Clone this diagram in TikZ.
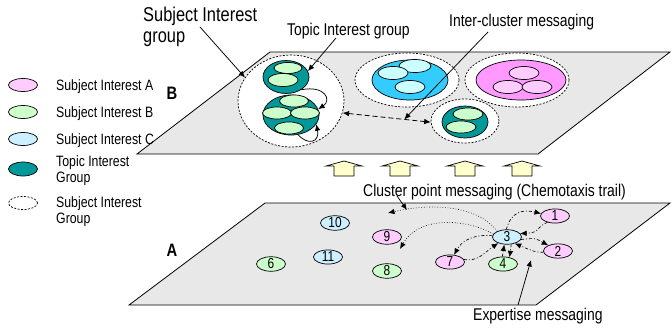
\documentclass[tikz,border=0pt]{standalone}
\usepackage{fontspec}
\setmainfont{Liberation Sans}[FakeStretch=0.82]
\usetikzlibrary{shapes.geometric,arrows.meta,calc}
\definecolor{pinkA}{HTML}{FFCCFF}
\definecolor{greenB}{HTML}{CCFFCC}
\definecolor{blueC}{HTML}{CCF0FF}
\definecolor{tealT}{HTML}{009999}
\definecolor{cyanBig}{HTML}{33CCFF}
\definecolor{cyanIn}{HTML}{CCFFFF}
\definecolor{pinkBig}{HTML}{FF99FF}
\definecolor{planeG}{HTML}{E8E8E8}
\definecolor{arrY}{HTML}{FFFFCC}
\begin{document}
\begin{tikzpicture}[x=1pt,y=-1pt,
  el/.style={ellipse, draw, line width=0.7pt, inner sep=0pt},
  sz/.style 2 args={minimum width=#1pt, minimum height=#2pt},
  sg/.style={el, dashed, dash pattern=on 2pt off 1.5pt, fill=white},
  num/.style={el, minimum width=29pt, minimum height=13pt, font=\fontsize{14.5}{14.5}\selectfont},
  lt/.style={inner sep=0pt, anchor=base west, font=\fontsize{15}{16.5}\selectfont, align=left},
  lab/.style={inner sep=0pt, anchor=base west, font=\fontsize{17}{19}\selectfont},
  plane/.style={draw, line width=0.8pt, fill=planeG},
  tip/.tip={Latex[length=6.5pt,width=5.5pt]},
  ptr/.style={line width=0.75pt, -tip},
  ex/.style={line width=0.65pt, dash pattern=on 3pt off 2pt on 1pt off 2pt, -tip},
  dt/.style={line width=0.65pt, dotted, -tip},
  bigarrow/.style={draw, line width=0.7pt, fill=arrY}
]
\useasboundingbox (0,0) rectangle (672,332);

% planes
\draw[plane] (137,154) -- (270,52) -- (670,52) -- (538,154) -- cycle;
\draw[plane] (129,305) -- (265,203) -- (670,203) -- (536,305) -- cycle;

% big yellow arrows
\foreach \cx in {344,400,465,522}{
  \draw[bigarrow] (\cx-10,176) -- (\cx-10,166) -- (\cx-18,166) -- (\cx,161) -- (\cx+18,166) -- (\cx+10,166) -- (\cx+10,176) -- cycle;
}

% legend
\node[el, fill=pinkA, sz={29}{13}] (lgA) at (23,85) {};
\node[el, fill=greenB, sz={29}{13}] (lgB) at (23,112) {};
\node[el, fill=blueC, sz={29}{13}] (lgC) at (23,139) {};
\node[el, fill=tealT, sz={29}{14}] (lgT) at (23,169) {};
\node[sg, sz={29}{13}] (lgS) at (23,203) {};
\node[lt] (ltA) at (56,90) {Subject Interest A};
\node[lt] (ltB) at (56,117) {Subject Interest B};
\node[lt] (ltC) at (56,144) {Subject Interest C};
\node[lt, anchor=north west] (ltT) at (56,155.3) {Topic Interest\\Group};
\node[lt, anchor=north west] (ltS) at (56,196) {Subject Interest\\Group};

% plane letters
\node[inner sep=0pt, font=\bfseries\fontsize{18}{18}\selectfont] (labB) at (172,93) {B};
\node[inner sep=0pt, font=\bfseries\fontsize{18}{18}\selectfont] (labA) at (172,250) {A};

% upper plane clusters
\node[sg, sz={106}{92}] (lsg) at (291,101) {};
\node[el, fill=tealT, sz={46}{33}] (tg1) at (286,77) {};
\node[el, fill=greenB, sz={28}{11}] (g1) at (288,68) {};
\node[el, fill=greenB, sz={30}{13}] (g2) at (283,80) {};
\node[el, fill=tealT, sz={56}{40}] (tg2) at (291,115) {};
\node[el, fill=greenB, sz={29}{12}] (g3) at (294,101) {};
\node[el, fill=greenB, sz={29}{12}] (g4) at (277,113) {};
\node[el, fill=greenB, sz={29}{12}] (g5) at (305,113) {};
\node[el, fill=greenB, sz={29}{12}] (g6) at (289,128) {};

\node[sg, sz={104}{54}] (csg) at (407,80) {};
\node[el, fill=cyanBig, sz={76}{40}] (cy) at (410,80) {};
\node[el, fill=cyanIn, sz={32}{13}] (c1) at (415,66) {};
\node[el, fill=cyanIn, sz={30}{13}] (c2) at (393,73) {};
\node[el, fill=cyanIn, sz={30}{13}] (c3) at (410,87) {};

\node[sg, sz={104}{54}] (psg) at (517,80) {};
\node[el, fill=pinkBig, sz={90}{40}] (pk) at (521,80) {};
\node[el, fill=pinkA, sz={30}{13}] (p1) at (524,73) {};
\node[el, fill=pinkA, sz={30}{13}] (p2) at (508,87) {};
\node[el, fill=pinkA, sz={30}{13}] (p3) at (537,87) {};

\node[sg, sz={68}{44}] (ssg) at (465,121) {};
\node[el, fill=tealT, sz={46}{32}] (st) at (465,122) {};
\node[el, fill=greenB, sz={30}{12}] (s1) at (468,114) {};
\node[el, fill=greenB, sz={30}{12}] (s2) at (461,127) {};

% upper labels
\node[inner sep=0pt, anchor=north west, align=left, font=\fontsize{20}{21}\selectfont] (silab) at (143,7) {Subject Interest\\group};
\node[lab] (tilab) at (287,35) {Topic Interest group};
\node[lab] (iclab) at (449,26) {Inter-cluster messaging};

% upper connectors
\coordinate (silp) at (200,27);
\draw[ptr] (silp) -- (lsg.153);
\coordinate (tilp) at (336,38);
\draw[ptr] (tilp) -- (tg1.15);
\draw[ptr] (tg1.-40) .. controls (325,85) and (332,100) .. (tg2.12);
\draw[ptr] (tg2.-70) .. controls (308,146) and (320,142) .. (tg2.-20);
\draw[line width=0.8pt, dashed, dash pattern=on 5pt off 3pt, tip-tip] (lsg.-13) -- (ssg.182);
\coordinate (icp) at ($(lsg.-13)!0.7!(ssg.182)$);
\coordinate (iclp) at (488,32);
\draw[ptr] (iclp) -- (icp);

% lower plane nodes
\node[num, fill=pinkA] (n1) at (555,216) {1};
\node[num, fill=pinkA] (n2) at (558,251) {2};
\node[num, fill=blueC] (n3) at (507,237) {3};
\node[num, fill=greenB] (n4) at (503,264) {4};
\node[num, fill=greenB] (n6) at (271,264) {6};
\node[num, fill=pinkA] (n7) at (450,262) {7};
\node[num, fill=greenB] (n8) at (387,271) {8};
\node[num, fill=pinkA] (n9) at (387,237) {9};
\node[num, fill=blueC] (n10) at (335,223) {10};
\node[num, fill=blueC] (n11) at (328,257) {11};

% lower labels
\node[lab] (cplab) at (363,196) {Cluster point messaging (Chemotaxis trail)};
\node[lab] (exlab) at (473,320) {Expertise messaging};

% chemotaxis trails
\coordinate (cp1) at (388,213);
\coordinate (cp2) at (400,249);
\draw[dt] (n3.150) .. controls (478,205) and (430,203) .. (cp1);
\draw[dt] (n3.168) .. controls (470,220) and (420,214) .. (cp2);
\coordinate (cplp) at (397,196);
\coordinate (cpt) at (407,210);
\draw[ptr] (cplp) -- (cpt);

% expertise messaging
\draw[ex] (n3.95) .. controls (511,212) and (522,209) .. (n1.170);
\draw[ex] (n1.220) .. controls (537,226) and (540,233) .. (n3.15);
\draw[ex] (n3.-10) .. controls (535,238) .. (n2.150);
\draw[ex] (n2.185) .. controls (535,252) .. (n3.-40);
\draw[ex] (n3.-60) -- (n4.45);
\draw[ex] (n3.175) .. controls (475,234) and (462,240) .. (n7.60);
\draw[ex] (n7.10) .. controls (478,262) and (485,252) .. (n3.215);
\draw[ex] (n4.95) -- (n3.250);
\coordinate (exlp) at (518,305);
\coordinate (ext) at (531,260);
\draw[ptr] (exlp) -- (ext);
\end{tikzpicture}
\end{document}
